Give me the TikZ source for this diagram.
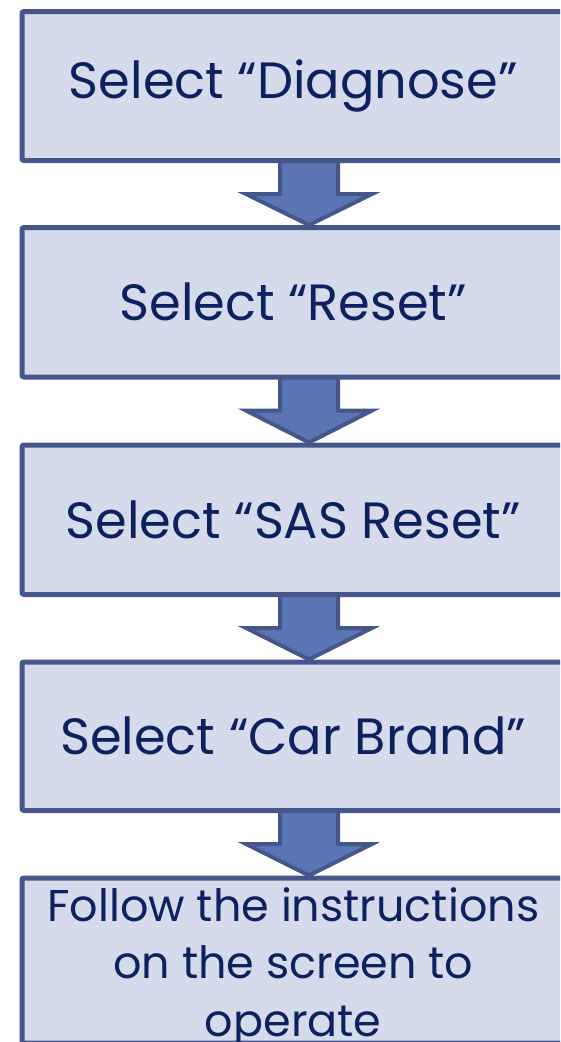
\documentclass[tikz,border=0pt]{standalone}
\usepackage{fontspec}
\setmainfont{Poppins}
\usetikzlibrary{calc}
\definecolor{boxfill}{HTML}{D5DBEB}
\definecolor{boxline}{HTML}{44568A}
\definecolor{txt}{HTML}{0C215F}
\definecolor{arrfill}{HTML}{5B74B3}
\begin{document}
\begin{tikzpicture}[x=1pt,y=-1pt,
  stepbox/.style={draw=boxline,fill=boxfill,line width=5pt,rounded corners=2pt,
    text=txt,font=\fontsize{51}{60}\selectfont,align=center,inner sep=0pt,
    minimum width=542.5pt,anchor=north west},
  bigtext/.style={text=txt,font=\fontsize{44.5}{57.5}\selectfont,align=center,inner sep=0pt},
  blockarrow/.style={draw=boxline,fill=arrfill,line width=4pt,line join=miter}]
\useasboundingbox (0,0) rectangle (560,1042);
\clip (0,0) rectangle (560,1042);
\node[stepbox,minimum height=149pt] (b1) at (19.5,9) {Select “Diagnose”};
\node[stepbox,minimum height=149.5pt] (b2) at (19.5,225) {Select “Reset”};
\node[stepbox,minimum height=149.5pt] (b3) at (19.5,442.5) {Select “SAS Reset”};
\node[stepbox,minimum height=148.5pt] (b4) at (19.5,659.5) {Select “Car Brand”};
\node[stepbox,minimum height=165pt] (b5) at (19.5,875.5) {};
\node[bigtext] (t5) at ($(b5.center)+(0,7)$) {Follow the instructions\\on the screen to\\operate};
\coordinate (ax) at (309,0);
\foreach \a/\b in {b1/b2,b2/b3,b3/b4,b4/b5}{
  \draw[blockarrow] ($(\a.south -| ax)+(-29,-2)$) -- ($(\a.south -| ax)+(-29,31)$)
    -- ($(\a.south -| ax)+(-63,31)$) -- (\b.north -| ax)
    -- ($(\a.south -| ax)+(63,31)$) -- ($(\a.south -| ax)+(29,31)$)
    -- ($(\a.south -| ax)+(29,-2)$) -- cycle;
}
\end{tikzpicture}
\end{document}
